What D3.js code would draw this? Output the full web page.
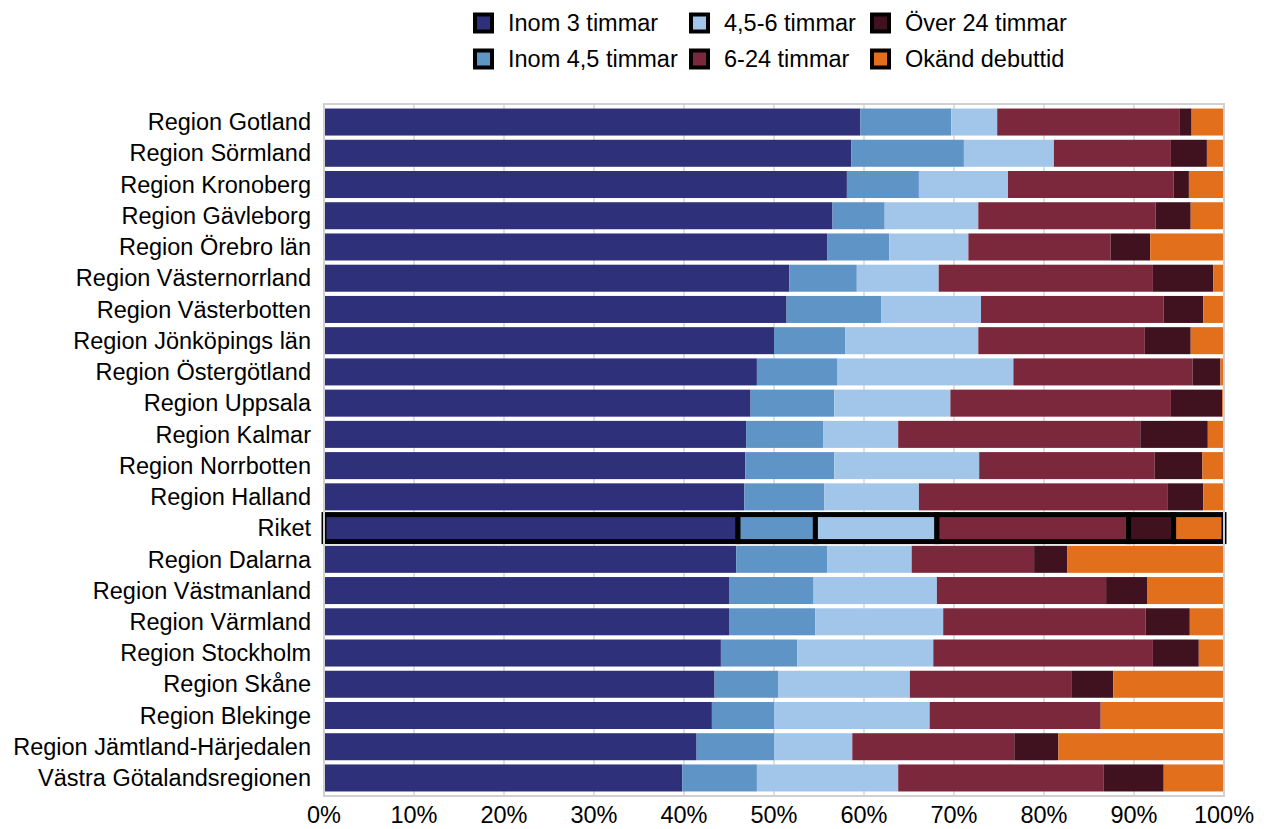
<!DOCTYPE html>
<html>
<head>
<meta charset="utf-8">
<script src="https://cdn.jsdelivr.net/npm/d3@7"></script>
<style>
  body { margin: 0; background: #fff; }
  text { font-family: "Liberation Sans", Arial, sans-serif; }
</style>
</head>
<body>
<script>
// size
var w = 1270;
var h = 829;

var regions = [
  "Region Gotland", "Region Sörmland", "Region Kronoberg", "Region Gävleborg",
  "Region Örebro län", "Region Västernorrland", "Region Västerbotten",
  "Region Jönköpings län", "Region Östergötland", "Region Uppsala",
  "Region Kalmar", "Region Norrbotten", "Region Halland", "Riket",
  "Region Dalarna", "Region Västmanland", "Region Värmland", "Region Stockholm",
  "Region Skåne", "Region Blekinge", "Region Jämtland-Härjedalen",
  "Västra Götalandsregionen"
];

var categories = ["Inom 3 timmar", "Inom 4,5 timmar", "4,5-6 timmar",
                  "6-24 timmar", "Över 24 timmar", "Okänd debuttid"];

// percent per region, same order as regions
var inom3   = [59.6, 58.6, 58.1, 56.5, 55.9, 51.7, 51.4, 50.0, 48.1, 47.4, 46.9, 46.8, 46.7, 46.0, 45.8, 45.0, 45.0, 44.1, 43.4, 43.1, 41.4, 39.8];
var inom45  = [10.1, 12.5, 8.0, 5.8, 6.9, 7.5, 10.5, 7.9, 8.9, 9.3, 8.6, 9.9, 8.9, 8.6, 10.1, 9.4, 9.6, 8.5, 7.1, 6.9, 8.6, 8.3];
var t45_6   = [5.1, 10.0, 9.9, 10.4, 8.8, 9.1, 11.1, 14.8, 19.6, 12.9, 8.3, 16.1, 10.5, 13.5, 9.4, 13.7, 14.2, 15.1, 14.6, 17.3, 8.7, 15.7];
var t6_24   = [20.3, 13.0, 18.4, 19.7, 15.8, 23.8, 20.3, 18.5, 19.9, 24.5, 26.9, 19.5, 27.6, 21.3, 13.6, 18.8, 22.5, 24.4, 18.0, 19.0, 18.0, 22.8];
var over24  = [1.3, 4.0, 1.7, 3.9, 4.4, 6.7, 4.4, 5.1, 3.1, 5.7, 7.5, 5.3, 4.0, 5.0, 3.7, 4.6, 4.9, 5.1, 4.6, 0.0, 4.9, 6.7];
var okand   = [3.6, 1.9, 3.9, 3.7, 8.2, 1.2, 2.3, 3.7, 0.4, 0.2, 1.8, 2.4, 2.3, 5.6, 17.4, 8.5, 3.8, 2.8, 12.3, 13.7, 18.4, 6.7];

var xTicks = [0, 10, 20, 30, 40, 50, 60, 70, 80, 90, 100];

var colors = ["#2e3079", "#5f94c7", "#a1c6ea", "#7b273c", "#40111f", "#e26f1c"];

var series = [inom3, inom45, t45_6, t6_24, over24, okand];
var table = regions.map(function(r, i) {
    var row = {region: r};
    categories.forEach(function(c, j) { row[c] = series[j][i]; });
    return row;
});

var stacked = d3.stack().keys(categories)(table);

var margin = {top: 104, right: 46, bottom: 33, left: 324};
var fontSize = "23.5px";

var svg = d3.select("body")
            .append("svg")
            .attr("width", w)
            .attr("height", h);

var x = d3.scaleLinear()
          .domain([0, 100])
          .range([margin.left, w - margin.right]);

var y = d3.scaleBand()
          .domain(regions)
          .range([margin.top, h - margin.bottom])
          .paddingInner(0.135)
          .paddingOuter(0.145);

// gridlines
svg.append("g")
   .selectAll("line")
   .data(xTicks)
   .enter()
   .append("line")
   .attr("x1", function(d) { return x(d); })
   .attr("x2", function(d) { return x(d); })
   .attr("y1", margin.top)
   .attr("y2", h - margin.bottom)
   .attr("stroke", "#d6d6d6")
   .attr("stroke-width", 1.5);

// bars
var groups = svg.selectAll("g.layer")
                .data(stacked)
                .enter()
                .append("g")
                .attr("class", "layer")
                .attr("fill", function(d, i) { return colors[i]; });

groups.selectAll("rect")
      .data(function(d) { return d.filter(function(p) { return p[1] - p[0] > 0; }); })
      .enter()
      .append("rect")
      .attr("x", function(d) { return x(d[0]); })
      .attr("y", function(d) { return y(d.data.region); })
      .attr("width", function(d) { return x(d[1]) - x(d[0]); })
      .attr("height", y.bandwidth())
      .attr("stroke", function(d) { return d.data.region == "Riket" ? "#000" : "none"; })
      .attr("stroke-width", function(d) { return d.data.region == "Riket" ? 5 : 0; });

// plot border
svg.append("rect")
   .attr("x", margin.left)
   .attr("y", margin.top)
   .attr("width", w - margin.left - margin.right)
   .attr("height", h - margin.top - margin.bottom)
   .attr("fill", "none")
   .attr("stroke", "#d0d0d0")
   .attr("stroke-width", 2);

// region labels
svg.append("g")
   .selectAll("text")
   .data(regions)
   .enter()
   .append("text")
   .text(function(d) { return d; })
   .attr("x", 311)
   .attr("y", function(d) { return y(d) + y.bandwidth() / 2; })
   .attr("dy", "0.35em")
   .attr("text-anchor", "end")
   .attr("font-size", fontSize)
   .attr("fill", "#000");

// x tick labels
svg.append("g")
   .selectAll("text")
   .data(xTicks)
   .enter()
   .append("text")
   .text(function(d) { return d + "%"; })
   .attr("x", function(d) { return x(d); })
   .attr("y", 823)
   .attr("text-anchor", "middle")
   .attr("font-size", fontSize)
   .attr("fill", "#000");

// legend, filled column by column
var legX = [473, 689, 870];
var legY = [23, 59];

var legend = svg.append("g")
                .selectAll("g")
                .data(categories)
                .enter()
                .append("g")
                .attr("transform", function(d, i) {
                    return "translate(" + legX[Math.floor(i / 2)] + "," + legY[i % 2] + ")";
                });

legend.append("rect")
      .attr("x", 2)
      .attr("y", -8.5)
      .attr("width", 17)
      .attr("height", 17)
      .attr("fill", function(d, i) { return colors[i]; })
      .attr("stroke", "#000")
      .attr("stroke-width", 4);

legend.append("text")
      .text(function(d) { return d; })
      .attr("x", 35)
      .attr("y", 0)
      .attr("dy", "0.35em")
      .attr("font-size", fontSize)
      .attr("fill", "#000");
</script>
</body>
</html>
